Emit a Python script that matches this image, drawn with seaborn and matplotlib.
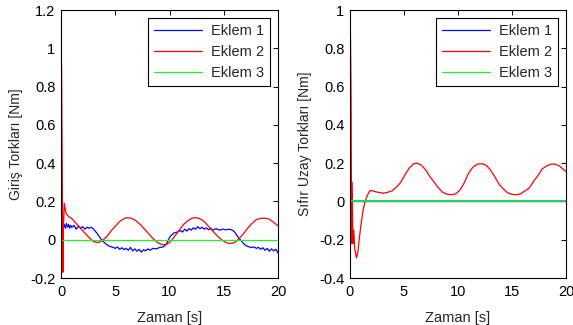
import matplotlib
matplotlib.use("Agg")
import matplotlib.pyplot as plt
import numpy as np
import pandas as pd
import seaborn as sns

# ---------------- data ----------------
series_names = ["Eklem 1", "Eklem 2", "Eklem 3"]
line_colors = ["#0000ff", "#ff0000", "#22ee22"]

# left panel: Giriş Torkları
t_blue_left = [0, 0.1, 0.2, 0.3, 0.4, 0.5, 0.6, 0.7, 0.8, 0.9, 1.0, 1.2, 1.4, 1.6, 1.8,
               2.0, 2.2, 2.4, 2.6, 2.8, 3.0, 3.3, 3.6, 3.9, 4.2, 4.5, 4.8, 5.0, 5.2, 5.4,
               5.6, 5.8, 6.0, 6.2, 6.4, 6.6, 6.8, 7.0, 7.2, 7.4, 7.6, 7.8, 8.0, 8.2, 8.5,
               8.8, 9.1, 9.4, 9.7, 9.9, 10.1, 10.4, 10.7, 11.0, 11.2, 11.4, 11.6, 11.8,
               12.0, 12.2, 12.4, 12.6, 12.8, 13.0, 13.2, 13.4, 13.6, 13.8, 14.0, 14.3,
               14.6, 14.9, 15.2, 15.5, 15.8, 16.0, 16.3, 16.6, 16.9, 17.2, 17.5, 17.8,
               18.0, 18.2, 18.4, 18.6, 18.8, 19.0, 19.2, 19.4, 19.6, 19.8, 20.0]
y_blue_left = [0.025, 0.04, 0.06, 0.08, 0.06, 0.085, 0.065, 0.08, 0.06, 0.075, 0.065, 0.075,
               0.055, 0.07, 0.06, 0.068, 0.055, 0.065, 0.06, 0.065, 0.055, 0.035, 0.01, -0.01,
               -0.025, -0.035, -0.04, -0.045, -0.038, -0.05, -0.042, -0.052, -0.045, -0.055,
               -0.04, -0.058, -0.048, -0.06, -0.05, -0.065, -0.052, -0.058, -0.048, -0.055,
               -0.045, -0.048, -0.04, -0.038, -0.025, 0.0, 0.02, 0.035, 0.04, 0.048, 0.04,
               0.055, 0.045, 0.058, 0.05, 0.062, 0.055, 0.068, 0.058, 0.065, 0.055, 0.062,
               0.052, 0.06, 0.05, 0.058, 0.05, 0.055, 0.052, 0.055, 0.05, 0.04, 0.015, -0.005,
               -0.025, -0.035, -0.04, -0.038, -0.045, -0.04, -0.05, -0.042, -0.055, -0.045,
               -0.06, -0.048, -0.058, -0.05, -0.07]

t_red_left = [0, 0.05, 0.1, 0.17, 0.22, 0.3, 0.45, 0.7, 1.0, 1.4, 1.8, 2.2, 2.6, 3.0, 3.4,
              3.8, 4.2, 4.6, 5.0, 5.4, 5.8, 6.1, 6.5, 6.9, 7.3, 7.7, 8.1, 8.5, 8.9, 9.3, 9.7,
              10.1, 10.5, 10.9, 11.3, 11.7, 12.1, 12.4, 12.8, 13.2, 13.6, 14.0, 14.4, 14.8,
              15.2, 15.6, 16.0, 16.4, 16.8, 17.2, 17.6, 18.0, 18.4, 18.8, 19.2, 19.6, 20.0]
y_red_left = [0.95, 0.9, 0.47, -0.17, 0.05, 0.19, 0.14, 0.12, 0.11, 0.085, 0.06, 0.035, 0.01,
              -0.01, -0.015, -0.005, 0.015, 0.045, 0.07, 0.095, 0.11, 0.115, 0.112, 0.1, 0.08,
              0.055, 0.03, 0.005, -0.015, -0.025, -0.025, -0.01, 0.02, 0.05, 0.08, 0.1, 0.113,
              0.115, 0.11, 0.095, 0.07, 0.045, 0.02, 0.0, -0.015, -0.02, -0.015, 0.005, 0.03,
              0.06, 0.085, 0.105, 0.112, 0.112, 0.108, 0.09, 0.073]

t_flat = [0, 20]
y_flat = [0, 0]

# right panel: Sıfır Uzay Torkları
t_red_right = [0, 0.05, 0.1, 0.15, 0.2, 0.27, 0.35, 0.45, 0.6, 0.72, 0.85, 1.0, 1.2, 1.4, 1.6,
               1.85, 2.1, 2.4, 2.7, 3.1, 3.5, 3.9, 4.3, 4.7, 5.1, 5.5, 5.9, 6.2, 6.6, 7.0, 7.4,
               7.8, 8.2, 8.6, 9.0, 9.4, 9.8, 10.2, 10.6, 11.0, 11.4, 11.8, 12.2, 12.6, 13.0,
               13.4, 13.8, 14.2, 14.6, 15.0, 15.4, 15.8, 16.2, 16.6, 17.0, 17.4, 17.8, 18.2,
               18.6, 19.0, 19.4, 19.8, 20.0]
y_red_right = [1.0, 0.84, 0.55, -0.22, 0.1, -0.22, -0.15, -0.25, -0.295, -0.27, -0.2, -0.13,
               -0.05, 0.0, 0.03, 0.057, 0.055, 0.05, 0.047, 0.043, 0.048, 0.055, 0.075, 0.1,
               0.14, 0.175, 0.197, 0.2, 0.19, 0.165, 0.13, 0.1, 0.07, 0.047, 0.038, 0.035,
               0.04, 0.06, 0.1, 0.15, 0.18, 0.195, 0.197, 0.19, 0.165, 0.13, 0.09, 0.065,
               0.045, 0.037, 0.035, 0.04, 0.055, 0.07, 0.105, 0.135, 0.17, 0.185, 0.195,
               0.195, 0.185, 0.165, 0.157]

x_ticks = [0, 5, 10, 15, 20]
y_ticks_left = [-0.2, 0, 0.2, 0.4, 0.6, 0.8, 1.0, 1.2]
y_ticks_right = [-0.4, -0.2, 0, 0.2, 0.4, 0.6, 0.8, 1.0]


def long_frame(parts):
    frames = []
    for name, t, y in parts:
        frames.append(pd.DataFrame({"t": t, "y": y, "seri": name}))
    return pd.concat(frames, ignore_index=True)


df_left = long_frame([("Eklem 1", t_blue_left, y_blue_left),
                      ("Eklem 2", t_red_left, y_red_left),
                      ("Eklem 3", t_flat, y_flat)])
df_right = long_frame([("Eklem 1", t_flat, y_flat),
                       ("Eklem 2", t_red_right, y_red_right),
                       ("Eklem 3", t_flat, y_flat)])

# ---------------- style ----------------
sns.set_theme(style="white")
plt.rcParams["font.family"] = ["Liberation Sans", "DejaVu Sans"]
plt.rcParams["axes.edgecolor"] = "black"
plt.rcParams["axes.linewidth"] = 0.8

palette = dict(zip(series_names, line_colors))

fig = plt.figure(figsize=(5.73, 3.25), dpi=100)
ax1 = fig.add_axes([0.1065, 0.1446, 0.3787, 0.8246])
ax2 = fig.add_axes([0.6108, 0.1446, 0.3770, 0.8246])


def fmt(v):
    return "%g" % round(v, 1)


for ax, df, yt, ylabel in [(ax1, df_left, y_ticks_left, "Giriş Torkları [Nm]"),
                           (ax2, df_right, y_ticks_right, "Sıfır Uzay Torkları [Nm]")]:
    sns.lineplot(data=df, x="t", y="y", hue="seri", hue_order=series_names,
                 palette=palette, estimator=None, sort=False, linewidth=0.9, ax=ax)
    ax.set_xlim(0, 20)
    ax.set_ylim(yt[0], yt[-1])
    ax.set_xticks(x_ticks)
    ax.set_xticklabels([fmt(v) for v in x_ticks])
    ax.set_yticks(yt)
    ax.set_yticklabels([fmt(v) for v in yt])
    ax.tick_params(direction="in", length=3.5, width=0.7, top=True, right=True,
                   labelsize=10.5, colors="black")
    ax.tick_params(axis="x", pad=5)
    ax.tick_params(axis="y", pad=4)
    ax.set_xlabel("Zaman [s]", fontsize=10.5, labelpad=8.5)
    ax.set_ylabel(ylabel, fontsize=10, labelpad=5)
    leg = ax.legend(loc="upper right", bbox_to_anchor=(0.963, 0.97), borderaxespad=0,
                    fontsize=10.5, handlelength=3.3, labelspacing=0.5, fancybox=False,
                    framealpha=1, edgecolor="black", borderpad=0.4, handletextpad=0.6)
    leg.get_frame().set_linewidth(0.8)

# the zero line of Eklem 3 on the right sits over Eklem 1 and looks heavier and darker
ax2.get_lines()[2].set_linewidth(1.6)
ax2.get_lines()[2].set_color("#2ecc5e")

fig.savefig("out.png", dpi=100)
